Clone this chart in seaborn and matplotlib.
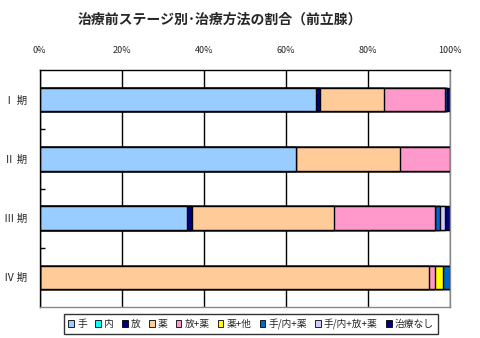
import matplotlib
matplotlib.use("Agg")
import matplotlib.pyplot as plt
import seaborn as sns
import pandas as pd
import numpy as np
from matplotlib.patches import Patch
from matplotlib.ticker import FixedLocator

sns.set_theme(style="white")
plt.rcParams['font.family'] = ['Noto Sans CJK JP', 'DejaVu Sans']

stages = ["Ⅰ 期", "Ⅱ 期", "Ⅲ 期", "Ⅳ 期"]
series = ["手", "内", "放", "薬", "放+薬", "薬+他", "手/内+薬", "手/内+放+薬", "治療なし"]
colors = ["#99CCFF", "#00FFFF", "#000080", "#FFCC99", "#FF99CC", "#FFFF00", "#0066CC", "#CCCCFF", "#000080"]

v_te      = [67.4, 62.6, 35.9, 0.0]
v_nai     = [0.0, 0.0, 0.0, 0.0]
v_hou     = [0.9, 0.0, 1.3, 0.0]
v_yaku    = [15.7, 25.1, 34.6, 94.8]
v_hou_yaku = [14.9, 12.3, 24.5, 1.6]
v_yaku_ta = [0.0, 0.0, 0.0, 2.0]
v_te_yaku = [0.3, 0.0, 1.3, 1.6]
v_te_hou_yaku = [0.0, 0.0, 1.2, 0.0]
v_none    = [0.8, 0.0, 1.2, 0.0]
values = [v_te, v_nai, v_hou, v_yaku, v_hou_yaku, v_yaku_ta, v_te_yaku, v_te_hou_yaku, v_none]

fig = plt.figure(figsize=(4.8, 3.38), dpi=100)
ax = fig.add_axes([39.5/480, 1-307/338, (450-39.5)/480, (307-70)/338])

cum = np.cumsum(np.array(values), axis=0)
# draw from the rightmost (largest cumulative) segment to the first
for i in range(len(series)-1, -1, -1):
    if np.all(np.array(values[i]) == 0):
        continue
    df = pd.DataFrame({"stage": stages, "val": cum[i]})
    sns.barplot(data=df, y="stage", x="val", orient="h", color=colors[i],
                saturation=1, width=0.4, edgecolor="black", linewidth=1.0,
                ax=ax, order=stages)

ax.set_xlim(0, 100)
ax.set_ylim(3.5, -0.5)
ax.set_xlabel("")
ax.set_ylabel("")
ax.xaxis.tick_top()
ax.set_xticks([0, 20, 40, 60, 80, 100])
ax.set_xticklabels(["0%", "20%", "40%", "60%", "80%", "100%"], fontsize=6.5)
ax.tick_params(axis="x", length=0, pad=11)
ax.grid(axis="x", color="black", linewidth=1.0)
ax.set_axisbelow(True)
ax.set_yticks(range(4))
ax.set_yticklabels(stages, fontsize=7.5)
ax.tick_params(axis="y", length=0, pad=9)
ax.yaxis.set_minor_locator(FixedLocator([0.5, 1.5, 2.5]))
ax.tick_params(axis="y", which="minor", left=True, length=3.5, direction="in", color="black", width=1)
for s in ["left", "top"]:
    ax.spines[s].set_color("black")
    ax.spines[s].set_linewidth(1.0)
for s in ["right", "bottom"]:
    ax.spines[s].set_color("#888888")
    ax.spines[s].set_linewidth(1.0)

fig.text(220/480, 1-20/338, "治療前ステージ別･治療方法の割合（前立腺）",
         ha="center", va="center", fontsize=10, fontweight="bold")

handles = [Patch(facecolor=c, edgecolor="black", linewidth=0.6) for c in colors]
leg = fig.legend(handles, series, loc="center", bbox_to_anchor=(251/480, 1-324/338),
                 ncol=9, fontsize=7, frameon=True, handlelength=0.6, handleheight=0.6,
                 handletextpad=0.3, columnspacing=0.85, borderpad=0.5, fancybox=False)
leg.get_frame().set_edgecolor("black")
leg.get_frame().set_linewidth(1.0)

fig.savefig("out.png", dpi=100)
